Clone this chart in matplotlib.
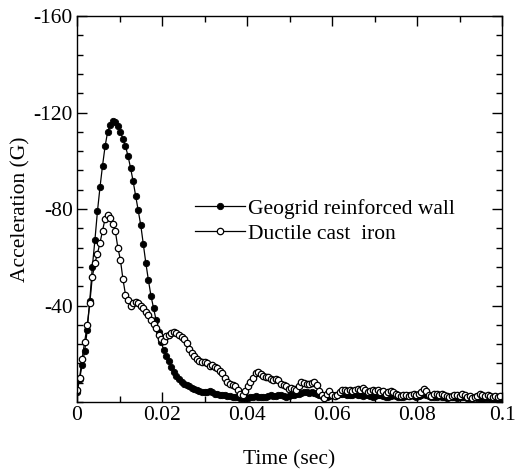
import matplotlib
matplotlib.use("Agg")
import numpy as np
import matplotlib.pyplot as plt
import matplotlib.ticker as mticker

plt.rcParams["font.family"] = ["Liberation Serif", "DejaVu Serif"]
plt.rcParams["axes.unicode_minus"] = False

# sample interval (s)
DT = 0.0006

geogrid = [
    -4, -9.5, -15.5, -21, -30, -42, -56, -67, -79, -89,
    -98, -106, -112, -115, -116.5, -116, -114.5, -112, -109, -106,
    -102, -97, -91.5, -85.5, -79.5, -73.3, -65.5, -57.5, -50.5, -44,
    -39, -34, -29, -25, -21.5, -19, -17, -14.5, -12.5, -11,
    -9.5, -8.5, -7.5, -7, -6.5, -6, -5.5, -5, -4.5, -4.3,
    -4, -4.2, -4.5, -4, -3.5, -3.5, -3, -3, -2.8, -2.5,
    -2.5, -2.2, -2, -2, -1.8, -1.5, -1.5, -1.8, -2, -2.2,
    -2.5, -2.2, -2, -2, -2.2, -2.5, -2.8, -2.5, -2.5, -3,
    -2.8, -2.5, -2.2, -2.5, -2.8, -3, -3.2, -3.5, -3.8, -4,
    -4, -3.8, -4, -3.8, -3.5, -3, -2.5, -2, -2.2, -2.5,
    -3, -3, -2.8, -3.2, -3.5, -3.5, -3, -2.8, -3, -3.2,
    -3, -2.8, -2.5, -2.8, -3, -2.5, -2.2, -2.5, -2.8, -3,
    -2.5, -2.2, -2, -2.5, -2.8, -2.5, -2.2, -2, -2.2, -2.5,
    -2.8, -3, -2.5, -2.2, -2.5, -3, -3.2, -2.8, -2.5, -2.2,
    -2, -2.2, -2.5, -2.2, -2, -1.8, -2, -2.2, -2, -1.8,
    -2, -2.2, -2, -1.8, -1.5, -1.8, -2, -1.8, -1.5, -1.2,
    -1.5, -1.8, -1.5, -1.2, 0, -1.5, -1.2,
]

ductile = [
    -5, -10, -18, -25, -32, -41, -52, -57.5, -61.5, -66,
    -71, -76, -77.5, -76.5, -74, -71, -64, -59, -51, -44.5,
    -42.5, -40, -41, -41.5, -41, -40, -39, -37.5, -36, -34,
    -32.5, -30.5, -28, -26, -25.5, -27.5, -28, -28.5, -29, -28.5,
    -28, -27, -26, -24.5, -22, -20.5, -19, -18, -17, -16.5,
    -16.5, -16, -15, -15.5, -14.5, -14, -13, -12, -10, -8.5,
    -7.5, -7, -6.5, -5, -3.5, -3, -4.5, -6.5, -8.5, -10,
    -12, -12.5, -11.5, -11, -10.5, -10.5, -9.5, -9, -9.5, -9,
    -7.5, -7, -6.5, -5.5, -6, -5.5, -5, -6.5, -8.5, -8,
    -7.5, -7.5, -8, -8.5, -7, -4.5, -3, -1.5, -3.5, -4.5,
    -3, -2.5, -3, -4, -5, -5, -4.5, -5, -4.5, -5,
    -5.5, -5, -6, -5, -4, -4.5, -5, -4.5, -5, -4,
    -4.5, -3.5, -4, -4.5, -4, -3.5, -3, -2.5, -3, -3,
    -2.5, -3, -3.5, -3, -3.5, -4, -5.5, -4.5, -3, -2.5,
    -3.5, -3.5, -3, -3.5, -3, -2.5, -2, -2.5, -3, -3,
    -2.5, -3.5, -3, -2, -2.5, -1.5, -2, -2.5, -3.5, -3,
    -2.5, -3, -2.5, -2, -2.5, -2, -2.5,
]

t_geo = np.arange(len(geogrid)) * DT
t_duc = np.arange(len(ductile)) * DT

fig = plt.figure(figsize=(5.17, 4.73), dpi=100)
ax = fig.add_axes([0.149, 0.150, 0.822, 0.816])

ax.plot(t_geo, geogrid, color="black", linewidth=0.9, marker="o",
        markersize=4.6, markerfacecolor="black", markeredgecolor="black",
        markeredgewidth=0.6, label="Geogrid reinforced wall")
ax.plot(t_duc, ductile, color="black", linewidth=0.9, marker="o",
        markersize=4.6, markerfacecolor="white", markeredgecolor="black",
        markeredgewidth=0.9, label="Ductile cast  iron")

ax.set_xlim(0, 0.1)
ax.set_ylim(0, -160)
ax.set_xticks([0, 0.02, 0.04, 0.06, 0.08, 0.1])
ax.set_xticklabels(["0", "0.02", "0.04", "0.06", "0.08", "0.1"])
ax.xaxis.set_minor_locator(mticker.MultipleLocator(0.01))
ax.set_yticks([-160, -120, -80, -40])
ax.yaxis.set_minor_locator(mticker.MultipleLocator(8))

ax.tick_params(which="both", direction="in", top=True, right=True,
               labelsize=15.5, width=1.0, colors="black")
ax.tick_params(which="major", length=7, pad=3)
ax.tick_params(which="minor", length=4)
for s in ax.spines.values():
    s.set_linewidth(1.0)

ax.set_xlabel("Time (sec)", fontsize=15.5, labelpad=18)
ax.set_ylabel("Acceleration (G)", fontsize=15.5, labelpad=2)

ax.legend(loc="upper left", bbox_to_anchor=(0.278, 0.527), frameon=False,
          fontsize=15.5, handlelength=2.3, handletextpad=0.15,
          labelspacing=0.22, borderaxespad=0, borderpad=0)

fig.savefig("out.png", dpi=100)
